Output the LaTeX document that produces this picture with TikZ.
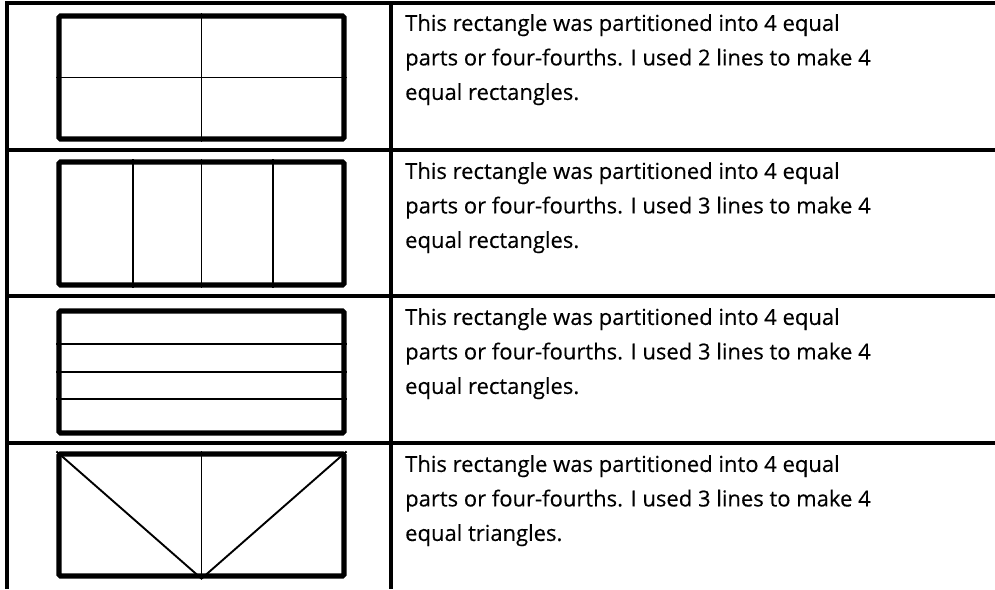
\documentclass[tikz,border=0pt]{standalone}
\usepackage{fontspec}
\setmainfont[FakeBold=0.3]{Open Sans}
\usetikzlibrary{positioning}

\begin{document}
\begin{tikzpicture}[
  x=1pt, y=-1pt,
  rule/.style={line width=3.4pt},
  fig/.style={draw, rectangle, line width=5.2pt, rounded corners=1.5pt, minimum width=285pt, inner sep=0pt},
  part/.style={line width=1.9pt},
  note/.style={anchor=north west, inner sep=0pt, align=left, font=\fontsize{22}{34.5}\selectfont}
]
\useasboundingbox (0,0) rectangle (995,589);
% table rules
\foreach \y in {3,150,296,443} \draw[rule] (5.3,\y) -- (995,\y);
\draw[rule] (7,1.3) -- (7,589);
\draw[rule] (391,1.3) -- (391,589);

% row 1: two lines, four rectangles
\node[fig, minimum height=123pt] (r1) at (201.5,77.5) {};
\draw[part] (r1.north) -- (r1.south);
\draw[part] (r1.west) -- (r1.east);
\node[note] (t1) at (405,14) {This rectangle was partitioned into 4 equal\\parts or four-fourths. I used 2 lines to make 4\\equal rectangles.};

% row 2: three vertical lines
\node[fig, minimum height=123pt] (r2) at (201.5,223.5) {};
\draw[part] (r2.north west -| 133,0) -- (r2.south west -| 133,0);
\draw[part] (r2.north) -- (r2.south);
\draw[part] (r2.north west -| 273,0) -- (r2.south west -| 273,0);
\node[note] (t2) at (405,162) {This rectangle was partitioned into 4 equal\\parts or four-fourths. I used 3 lines to make 4\\equal rectangles.};

% row 3: three horizontal lines
\node[fig, minimum height=122pt] (r3) at (201.5,372) {};
\draw[part] (r3.north west |- 0,344) -- (r3.north east |- 0,344);
\draw[part] (r3.west) -- (r3.east);
\draw[part] (r3.north west |- 0,399) -- (r3.north east |- 0,399);
\node[note] (t3) at (405,308) {This rectangle was partitioned into 4 equal\\parts or four-fourths. I used 3 lines to make 4\\equal rectangles.};

% row 4: four triangles
\node[fig, minimum height=122pt] (r4) at (201.5,515) {};
\draw[part] (r4.north west) -- (r4.south) -- (r4.north east);
\draw[part] (r4.north) -- (r4.south);
\node[note] (t4) at (405,455) {This rectangle was partitioned into 4 equal\\parts or four-fourths. I used 3 lines to make 4\\equal triangles.};
\end{tikzpicture}
\end{document}
